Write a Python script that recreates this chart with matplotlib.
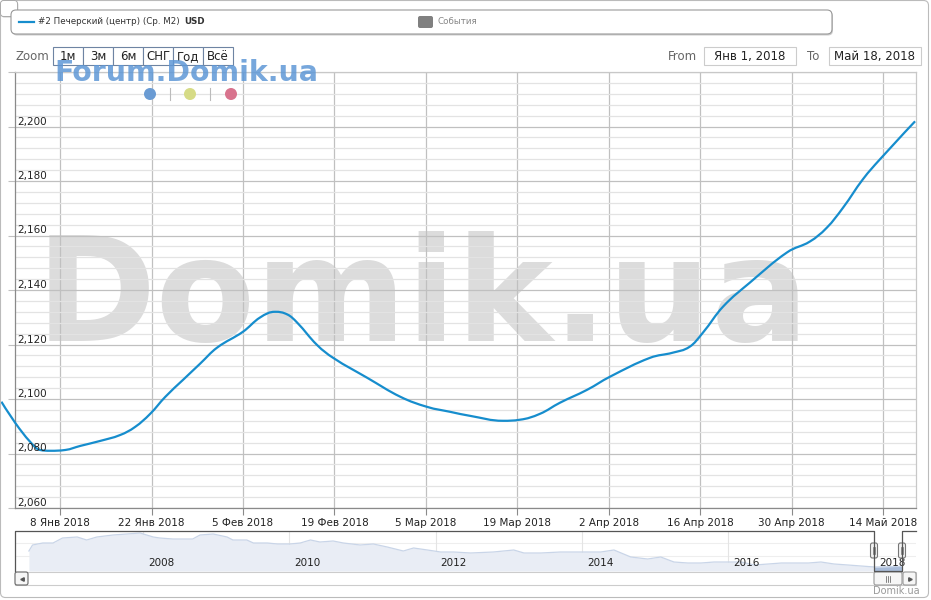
import numpy as np
import pandas as pd
import matplotlib
matplotlib.use('Agg')
from matplotlib import pyplot as plt
from matplotlib.patches import FancyBboxPatch, Rectangle, Circle, PathPatch
from matplotlib.path import Path
import matplotlib.dates as mdates
import matplotlib.transforms as mtransforms

plt.rcParams['font.family'] = ['DejaVu Sans']

# средняя цена м2, Печерский (центр), USD -- дни от 1 янв 2018
days = [-2.0, 0.1, 2.4, 3.9, 5.5, 7.8, 10.1, 13.1, 16.2, 18.5, 20.8, 23.1, 25.8, 28.4,
        31.0, 35.0, 37.6, 39.9, 41.8, 43.3, 46.3, 48.8, 54.0, 59.1, 63.2, 66.7, 69.8,
        74.8, 77.4, 80.5, 83.5, 87.7, 91.2, 97.3, 100.8, 103.4, 105.4, 108.5, 112.6,
        118.3, 121.8, 124.4, 126.9, 129.9, 132.5, 137.9]
price = [2099.0, 2091.3, 2084.3, 2081.3, 2081.0, 2081.3, 2082.8, 2084.6, 2086.8, 2089.8,
         2094.6, 2100.8, 2107.0, 2112.9, 2118.8, 2124.7, 2129.9, 2132.0, 2131.0, 2128.0,
         2119.9, 2115.1, 2107.8, 2100.8, 2097.1, 2095.3, 2093.8, 2092.0, 2092.4, 2094.6,
         2098.6, 2103.4, 2108.2, 2115.1, 2117.0, 2119.2, 2124.3, 2133.9, 2142.7, 2153.8,
         2157.8, 2162.9, 2170.3, 2180.6, 2187.9, 2201.9]

tick_dates = ['2018-01-08', '2018-01-22', '2018-02-05', '2018-02-19', '2018-03-05',
              '2018-03-19', '2018-04-02', '2018-04-16', '2018-04-30', '2018-05-14']
months_ru = ['Янв', 'Фев', 'Мар', 'Апр', 'Май', 'Июн', 'Июл', 'Авг', 'Сен', 'Окт', 'Ноя', 'Дек']
y_major = list(range(2060, 2221, 20))
y_minor = list(range(2060, 2221, 4))

# навигатор: вся история (год, цена)
nav_year = [2006.44, 2006.49, 2006.63, 2006.77, 2006.90, 2007.10, 2007.23, 2007.37, 2007.59,
            2007.78, 2007.96, 2008.14, 2008.23, 2008.41, 2008.68, 2008.78, 2008.96, 2009.15,
            2009.23, 2009.42, 2009.51, 2009.70, 2009.84, 2010.01, 2010.15, 2010.29, 2010.42,
            2010.60, 2010.74, 2010.97, 2011.15, 2011.34, 2011.56, 2011.70, 2011.89, 2012.07,
            2012.25, 2012.48, 2012.79, 2013.07, 2013.21, 2013.44, 2013.71, 2013.99, 2014.26,
            2014.44, 2014.67, 2014.90, 2015.08, 2015.26, 2015.45, 2015.63, 2015.81, 2016.00,
            2016.18, 2016.36, 2016.55, 2016.73, 2017.10, 2017.27, 2017.45, 2017.64, 2017.82,
            2018.00, 2018.38]
nav_price = [3200, 3590, 3720, 3720, 4045, 4110, 3915, 4110, 4240, 4305, 4370, 4110, 4045,
             3980, 3980, 4240, 4305, 4110, 3915, 3915, 3720, 3720, 3655, 3655, 3720, 3915,
             3785, 3850, 3720, 3590, 3655, 3460, 3200, 3395, 3265, 3135, 3135, 3070, 3135,
             3265, 3070, 3070, 3135, 3135, 3135, 3265, 2810, 2680, 2810, 2485, 2420, 2420,
             2485, 2485, 2485, 2290, 2355, 2420, 2420, 2485, 2355, 2290, 2225, 2160, 2200]
nav_years_lbl = [2008, 2010, 2012, 2014, 2016, 2018]

zoom_buttons = ['1м', '3м', '6м', 'СНГ', 'Год', 'Всё']
series_name = '#2 Печерский (центр) (Ср. М2)'
date_from = 'Янв 1, 2018'
date_to = 'Май 18, 2018'

line_color = '#168dcd'
W, H = 931, 600


def spline_path(xs, ys, k=1.5):
    # гладкая кривая через точки (как spline в highcharts)
    n = len(xs)
    left = [(xs[i], ys[i]) for i in range(n)]
    right = [(xs[i], ys[i]) for i in range(n)]
    for i in range(1, n - 1):
        x, y = xs[i], ys[i]
        lx = (k * x + xs[i - 1]) / (k + 1)
        ly = (k * y + ys[i - 1]) / (k + 1)
        rx = (k * x + xs[i + 1]) / (k + 1)
        ry = (k * y + ys[i + 1]) / (k + 1)
        if rx != lx:
            corr = (ry - ly) * (rx - x) / (rx - lx) + y - ry
            ly += corr
            ry += corr
        if ly > max(ys[i - 1], y):
            ly = max(ys[i - 1], y)
            ry = 2 * y - ly
        elif ly < min(ys[i - 1], y):
            ly = min(ys[i - 1], y)
            ry = 2 * y - ly
        if ry > max(ys[i + 1], y):
            ry = max(ys[i + 1], y)
            ly = 2 * y - ry
        elif ry < min(ys[i + 1], y):
            ry = min(ys[i + 1], y)
            ly = 2 * y - ry
        left[i] = (lx, ly)
        right[i] = (rx, ry)
    verts = [(xs[0], ys[0])]
    codes = [Path.MOVETO]
    for i in range(1, n):
        verts += [right[i - 1], left[i], (xs[i], ys[i])]
        codes += [Path.CURVE4] * 3
    return Path(verts, codes)


fig = plt.figure(figsize=(W / 100, H / 100), dpi=100)

# ---- основной график
ax = fig.add_axes([15 / W, 1 - 508 / H, 901 / W, 436 / H])
start = pd.Timestamp('2018-01-01')
dates = start + pd.to_timedelta(days, unit='D')
xnum = mdates.date2num(dates.to_pydatetime())
ax.add_patch(PathPatch(spline_path(list(xnum), price), fc='none', ec=line_color,
                       lw=1.6, clip_on=False, zorder=3))
ax.xaxis_date()

ax.set_xlim(mdates.date2num(pd.Timestamp('2018-01-01 02:00')),
            mdates.date2num(pd.Timestamp('2018-05-19 01:00')))
ax.set_ylim(2060, 2220)
ax.set_axisbelow(True)

ticks = pd.to_datetime(tick_dates)
ax.set_xticks(mdates.date2num(ticks.to_pydatetime()))
ax.set_xticklabels([f'{d.day} {months_ru[d.month - 1]} {d.year}' for d in ticks],
                   fontsize=7.5, color='#222222')
ax.set_yticks(y_major)
ax.set_yticks(y_minor, minor=True)
ax.set_yticklabels([])
ax.tick_params(axis='x', length=5, color='#8a8a8a', pad=2)
ax.tick_params(axis='y', which='major', length=5, color='#c0c0c0')
ax.tick_params(axis='y', which='minor', length=0)
ax.grid(axis='y', which='major', color='#c0c0c0', lw=0.9)
ax.grid(axis='y', which='minor', color='#e3e3e3', lw=0.9)
ax.grid(axis='x', which='major', color='#c0c0c0', lw=0.9)
for s in ['top', 'right']:
    ax.spines[s].set_color('#c8c8c8')
    ax.spines[s].set_linewidth(0.9)
for s in ['left', 'bottom']:
    ax.spines[s].set_color('#8a8a8a')
    ax.spines[s].set_linewidth(0.9)

lbl_tr = mtransforms.blended_transform_factory(ax.transAxes, ax.transData)
lbl_tr = lbl_tr + mtransforms.ScaledTranslation(2 / 100, 2 / 100, fig.dpi_scale_trans)
for v in y_major[:-1]:
    ax.text(0, v, f'{v:,}', transform=lbl_tr, ha='left', va='baseline',
            fontsize=7.5, color='#222222')

ax.text(0.452, 0.383, 'Domik.ua', transform=ax.transAxes, ha='center', va='baseline',
        fontsize=104.5, weight='bold', color='#dcdcdc', zorder=0.2)

# ---- навигатор
nav = fig.add_axes([15 / W, 1 - 571 / H, 901 / W, 40 / H])
nav.set_xlim(2006.25, 2018.57)
nav.set_ylim(1900, 4500)
nav.fill_between(nav_year, nav_price, 1900, color='#e9edf5', lw=0)
nav.plot(nav_year, nav_price, color='#c9d5e8', lw=0.9)
sel = [y >= 2018.0 for y in nav_year]
nav.fill_between(nav_year, nav_price, 1900, where=sel, color='#a9bcd9', lw=0)
for yv in [2900, 3700]:
    nav.axhline(yv, color='#eeeeee', lw=0.8, zorder=0.5)
ytr = mtransforms.blended_transform_factory(nav.transData, nav.transAxes)
for yr in nav_years_lbl:
    nav.axvline(yr, color='#e4e4e4', lw=0.8, zorder=0.5)
    nav.text(yr + 0.07, 0.2, str(yr), transform=ytr, ha='left', va='center',
             fontsize=7.5, color='#222222')
nav.set_xticks([])
nav.set_yticks([])
for s in nav.spines.values():
    s.set_visible(False)

# ---- оформление в пикселях
deco = fig.add_axes([0, 0, 1, 1], zorder=10)
deco.set_xlim(0, W)
deco.set_ylim(H, 0)
deco.axis('off')
deco.patch.set_alpha(0)

deco.add_patch(FancyBboxPatch((0.5, 0.5), 928, 597, boxstyle='round,pad=0,rounding_size=5',
                              fc='none', ec='#bbbbbb', lw=0.8))
deco.add_patch(FancyBboxPatch((1.5, 1.8), 17, 16, boxstyle='round,pad=0,rounding_size=3',
                              fc='#dddddd', ec='none'))
deco.add_patch(FancyBboxPatch((0.5, 0.5), 17, 16, boxstyle='round,pad=0,rounding_size=3',
                              fc='white', ec='#aaaaaa', lw=0.7))

# легенда
deco.add_patch(FancyBboxPatch((12, 11.5), 821, 24, boxstyle='round,pad=0,rounding_size=5',
                              fc='#cccccc', ec='none'))
deco.add_patch(FancyBboxPatch((11, 10), 821, 24, boxstyle='round,pad=0,rounding_size=5',
                              fc='white', ec='#999999', lw=0.8))
deco.plot([19, 34], [22, 22], color=line_color, lw=1.6)
t1 = deco.text(38, 22, series_name, va='center', ha='left', fontsize=6.3, color='#333333')
deco.annotate('USD', xy=(1, 0.5), xycoords=t1, xytext=(3, 0), textcoords='offset points',
              va='center', ha='left', fontsize=6.3, weight='bold', color='#333333')
deco.add_patch(FancyBboxPatch((418, 16), 15, 12, boxstyle='round,pad=0,rounding_size=2',
                              fc='#808080', ec='none'))
deco.text(438, 22, 'События', va='center', ha='left', fontsize=6.3, color='#888888')

# zoom
deco.text(16, 57, 'Zoom', va='center', ha='left', fontsize=8.5, color='#666666')
for i, b in enumerate(zoom_buttons):
    deco.add_patch(Rectangle((53 + 30 * i, 47), 30, 18, fc='white', ec='#6e84a3', lw=0.8))
    deco.text(68 + 30 * i, 56.5, b, ha='center', va='center', fontsize=8.5, color='#222222')

deco.text(697, 57, 'From', ha='right', va='center', fontsize=8.5, color='#666666')
deco.add_patch(Rectangle((704, 47), 92, 18, fc='white', ec='#cccccc', lw=0.8))
deco.text(750, 56.5, date_from, ha='center', va='center', fontsize=8.5, color='#222222')
deco.text(807, 57, 'To', ha='left', va='center', fontsize=8.5, color='#666666')
deco.add_patch(Rectangle((829, 47), 92, 18, fc='white', ec='#cccccc', lw=0.8))
deco.text(875, 56.5, date_to, ha='center', va='center', fontsize=8.5, color='#222222')

# водяной знак и точки
deco.text(54.5, 81, 'Forum.Domik.ua', ha='left', va='baseline', fontsize=20.4,
          weight='bold', color='#5f98d6', alpha=0.85)
for cx, c in [(150, '#6a9bd3'), (190, '#d6db86'), (231, '#d8738d')]:
    deco.add_patch(Circle((cx, 94), 6, fc=c, ec='none'))
for sx in [170, 210]:
    deco.plot([sx, sx], [88, 100], color='#bbbbbb', lw=0.8)

# контур навигатора и ручки
deco.plot([15, 15, 874, 874, 902, 902, 916], [571, 531, 531, 571, 571, 531, 531],
          color='#555555', lw=0.9)
for hx in [874, 902]:
    deco.add_patch(FancyBboxPatch((hx - 3.5, 543), 7, 15, boxstyle='round,pad=0,rounding_size=2',
                                  fc='#f2f2f2', ec='#777777', lw=0.8))
    for lx in [hx - 1, hx + 1]:
        deco.plot([lx, lx], [547, 554], color='#666666', lw=0.5)

# скроллбар
deco.add_patch(Rectangle((15, 572), 901, 13, fc='white', ec='#cccccc', lw=0.8))
deco.add_patch(FancyBboxPatch((15, 572), 13, 13, boxstyle='round,pad=0,rounding_size=2',
                              fc='#f6f6f6', ec='#666666', lw=0.8))
deco.plot([21.5], [578.5], marker='<', ms=2.5, color='#555555')
deco.add_patch(FancyBboxPatch((874, 572), 28, 13, boxstyle='round,pad=0,rounding_size=2',
                              fc='#f6f6f6', ec='#999999', lw=0.8))
for gx in [886, 888, 890]:
    deco.plot([gx, gx], [575.5, 581.5], color='#555555', lw=0.5)
deco.add_patch(FancyBboxPatch((903, 572), 13, 13, boxstyle='round,pad=0,rounding_size=2',
                              fc='#f6f6f6', ec='#999999', lw=0.8))
deco.plot([909.5], [578.5], marker='>', ms=2.5, color='#555555')

deco.text(920, 591, 'Domik.ua', ha='right', va='center', fontsize=7, color='#999999')

fig.savefig('out.png', dpi=100)
